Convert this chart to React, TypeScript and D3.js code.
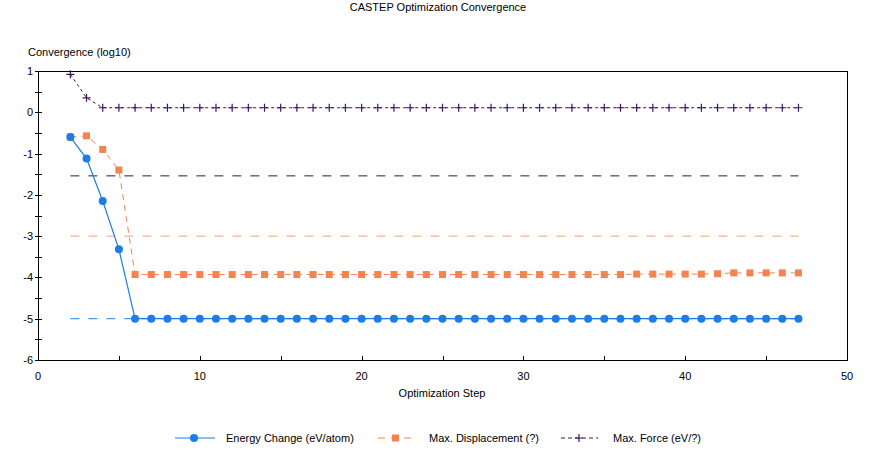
import React, { useEffect, useRef } from 'react';
import * as d3 from 'd3'

const steps = d3.range(2, 48)

const energyHead = [-0.6, -1.12, -2.15, -3.32]
const energyTail = -5.0
const dispHead = [-0.6, -0.57, -0.9, -1.4]
const dispTail = [-3.93, -3.93, -3.93, -3.93, -3.93, -3.93, -3.93, -3.93, -3.93, -3.93,
  -3.93, -3.93, -3.93, -3.93, -3.93, -3.93, -3.93, -3.93, -3.93, -3.93,
  -3.93, -3.93, -3.93, -3.93, -3.93, -3.93, -3.93, -3.93, -3.93, -3.93,
  -3.93, -3.92, -3.92, -3.92, -3.92, -3.92, -3.91, -3.89, -3.89, -3.89, -3.89, -3.89]
const forceHead = [0.92, 0.35]
const forceTail = 0.11

const energy = steps.map((s, i) => i < energyHead.length ? energyHead[i] : energyTail)
const disp = steps.map((s, i) => i < dispHead.length ? dispHead[i] : dispTail[i - dispHead.length])
const force = steps.map((s, i) => i < forceHead.length ? forceHead[i] : forceTail)

const tolerances = [
  { value: -1.54, color: '#35105a' },
  { value: -3.0, color: '#f0a07a' },
  { value: -5.0, color: '#1f7fe0' },
]

const xTicks = [0, 10, 20, 30, 40, 50]
const yTicks = [1, 0, -1, -2, -3, -4, -5, -6]

const BLUE = '#1a7de8'
const ORANGE = '#f5834f'
const PURPLE = '#3d1560'

const App: React.FC = () => {
  const svgRef = useRef() as React.MutableRefObject<SVGSVGElement>

  useEffect(() => {
    const svg = d3.select(svgRef.current)
    svg.html('')
    const font = '"Liberation Sans", Arial, sans-serif'

    const x = d3.scaleLinear().domain([0, 50]).range([38, 847])
    const y = d3.scaleLinear().domain([-6, 1]).range([360, 71])

    svg.append('rect').attr('width', 870).attr('height', 454).attr('fill', '#fff')

    // frame
    svg.append('rect')
      .attr('x', 38.5).attr('y', 71.5)
      .attr('width', 809).attr('height', 289)
      .attr('fill', 'none').attr('stroke', '#000').attr('stroke-width', 1)

    // y ticks (major + half)
    d3.range(-6, 1.01, 0.5).forEach(v => {
      svg.append('line')
        .attr('x1', 35).attr('x2', 42)
        .attr('y1', Math.round(y(v)) + 0.5).attr('y2', Math.round(y(v)) + 0.5)
        .attr('stroke', '#000')
    })
    yTicks.forEach(v => {
      svg.append('text')
        .attr('x', 33).attr('y', y(v) + 4)
        .attr('text-anchor', 'end')
        .attr('font-family', font).attr('font-size', 11)
        .text(v)
    })

    // x ticks
    d3.range(0, 51, 5).forEach(v => {
      svg.append('line')
        .attr('x1', Math.round(x(v)) + 0.5).attr('x2', Math.round(x(v)) + 0.5)
        .attr('y1', 356).attr('y2', 360)
        .attr('stroke', '#000')
    })
    xTicks.forEach(v => {
      svg.append('text')
        .attr('x', x(v)).attr('y', 380)
        .attr('text-anchor', 'middle')
        .attr('font-family', font).attr('font-size', 11)
        .text(v)
    })

    // tolerance lines
    tolerances.forEach(t => {
      svg.append('line')
        .attr('x1', x(2)).attr('x2', x(47))
        .attr('y1', y(t.value)).attr('y2', y(t.value))
        .attr('stroke', t.color).attr('stroke-width', 1)
        .attr('stroke-dasharray', '9,9')
    })

    const line = d3.line<number>()
      .x((d, i) => x(steps[i]))
      .y(d => y(d))

    // force
    svg.append('path').datum(force)
      .attr('fill', 'none').attr('stroke', PURPLE).attr('stroke-width', 1)
      .attr('stroke-dasharray', '3,3').attr('d', line)
    force.forEach((v, i) => {
      const cx = x(steps[i]), cy = y(v)
      svg.append('path')
        .attr('d', `M${cx - 4},${cy}H${cx + 4}M${cx},${cy - 4}V${cy + 4}`)
        .attr('stroke', PURPLE).attr('stroke-width', 1.2)
    })

    // displacement
    svg.append('path').datum(disp)
      .attr('fill', 'none').attr('stroke', ORANGE).attr('stroke-width', 1)
      .attr('stroke-dasharray', '6,5').attr('d', line)
    disp.forEach((v, i) => {
      svg.append('rect')
        .attr('x', x(steps[i]) - 3.5).attr('y', y(v) - 3.5)
        .attr('width', 7).attr('height', 7)
        .attr('fill', ORANGE)
    })

    // energy
    svg.append('path').datum(energy)
      .attr('fill', 'none').attr('stroke', BLUE).attr('stroke-width', 1.2)
      .attr('d', line)
    energy.forEach((v, i) => {
      svg.append('circle')
        .attr('cx', x(steps[i])).attr('cy', y(v)).attr('r', 4)
        .attr('fill', BLUE)
    })

    // titles
    svg.append('text')
      .attr('x', 438).attr('y', 11)
      .attr('text-anchor', 'middle')
      .attr('font-family', font).attr('font-size', 11)
      .text('CASTEP Optimization Convergence')
    svg.append('text')
      .attr('x', 28).attr('y', 56)
      .attr('font-family', font).attr('font-size', 11)
      .text('Convergence (log10)')
    svg.append('text')
      .attr('x', 442).attr('y', 397)
      .attr('text-anchor', 'middle')
      .attr('font-family', font).attr('font-size', 11)
      .text('Optimization Step')

    // legend
    const ly = 438
    const leg = svg.append('g')
    leg.append('line').attr('x1', 175).attr('x2', 215).attr('y1', ly).attr('y2', ly)
      .attr('stroke', BLUE).attr('stroke-width', 1.2)
    leg.append('circle').attr('cx', 194).attr('cy', ly).attr('r', 4).attr('fill', BLUE)
    leg.append('text').attr('x', 226).attr('y', ly + 4)
      .attr('font-family', font).attr('font-size', 11).text('Energy Change (eV/atom)')

    leg.append('line').attr('x1', 378).attr('x2', 415).attr('y1', ly).attr('y2', ly)
      .attr('stroke', ORANGE).attr('stroke-dasharray', '7,6')
    leg.append('rect').attr('x', 392).attr('y', ly - 3.5).attr('width', 7).attr('height', 7)
      .attr('fill', ORANGE)
    leg.append('text').attr('x', 429).attr('y', ly + 4)
      .attr('font-family', font).attr('font-size', 11).text('Max. Displacement (?)')

    leg.append('line').attr('x1', 561).attr('x2', 598).attr('y1', ly).attr('y2', ly)
      .attr('stroke', PURPLE).attr('stroke-dasharray', '4,3')
    leg.append('path')
      .attr('d', `M${575},${ly}H${583}M${579},${ly - 4}V${ly + 4}`)
      .attr('stroke', PURPLE).attr('stroke-width', 1.2)
    leg.append('text').attr('x', 613).attr('y', ly + 4)
      .attr('font-family', font).attr('font-size', 11).text('Max. Force (eV/?)')
  }, [])

  return (
    <div style={{ position: 'absolute', left: 0, top: 0 }}>
      <svg ref={svgRef} width={870} height={454} style={{ display: 'block' }} />
    </div>
  )
}

export default App
